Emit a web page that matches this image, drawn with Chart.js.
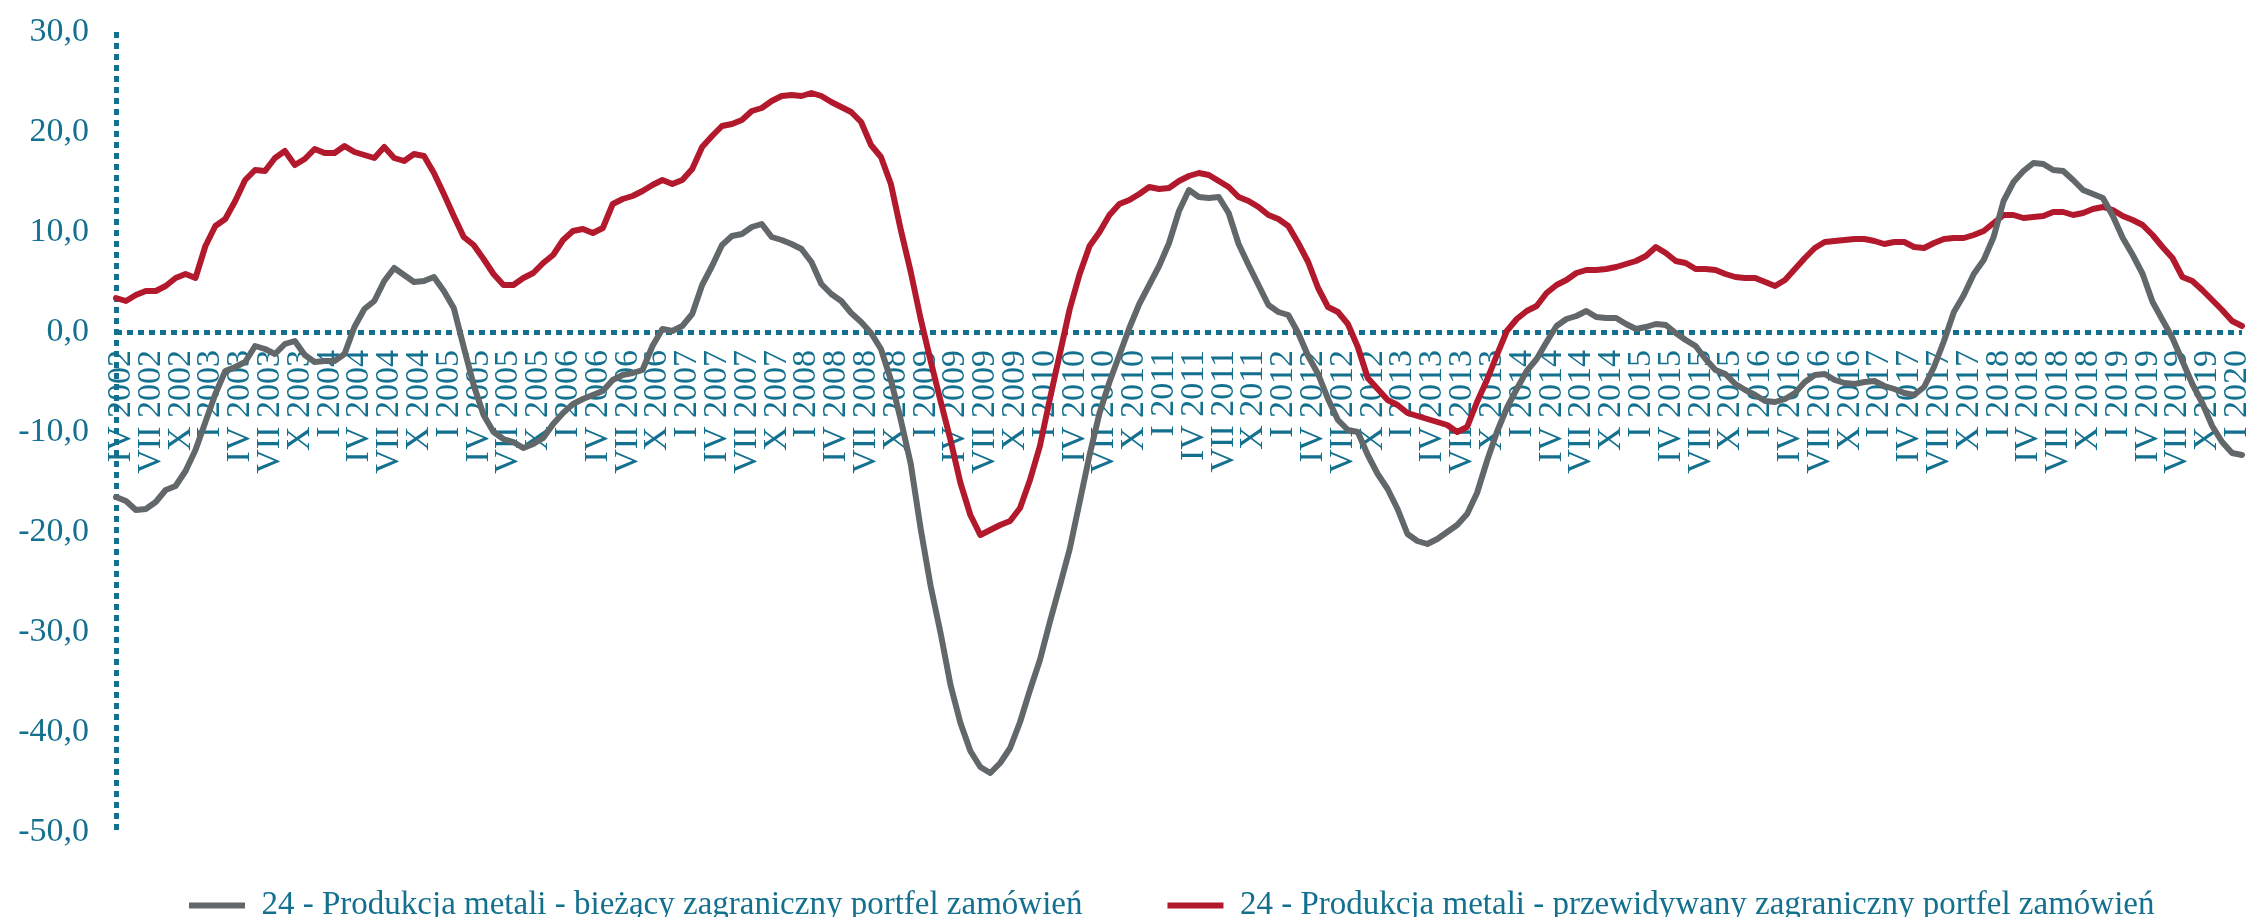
<!DOCTYPE html>
<html lang="pl">
<head>
<meta charset="utf-8">
<title>24 - Produkcja metali - zagraniczny portfel zamówień</title>
<script src="https://cdn.jsdelivr.net/npm/chart.js@4.4.1/dist/chart.umd.min.js"></script>
<style>
  html, body { margin: 0; padding: 0; background: #ffffff; }
  canvas { display: block; }
</style>
</head>
<body>
<canvas id="chart" width="2248" height="917"></canvas>
<script>
// Dane miesięczne od IV 2002 (saldo odpowiedzi)
const START_YEAR = 2002;
const START_MONTH = 4;
const MONTHS_ROMAN = ['I', 'II', 'III', 'IV', 'V', 'VI', 'VII', 'VIII', 'IX', 'X', 'XI', 'XII'];

const biezacy = [
  -16.5, -16.9, -17.8, -17.7, -17.0, -15.8, -15.4, -13.9, -11.8, -9.0, -6.2, -3.9,
  -3.5, -3.0, -1.4, -1.7, -2.2, -1.2, -0.9, -2.3, -3.0, -2.9, -2.9, -2.2,
  0.5, 2.3, 3.1, 5.1, 6.4, 5.7, 5.0, 5.1, 5.5, 4.1, 2.4, -1.5,
  -5.3, -8.3, -10.0, -10.7, -11.0, -11.6, -11.2, -10.6, -9.2, -8.1, -7.2, -6.7,
  -6.3, -5.9, -4.8, -4.3, -4.1, -3.8, -1.4, 0.3, 0.1, 0.6, 1.8, 4.7,
  6.6, 8.7, 9.6, 9.8, 10.5, 10.8, 9.5, 9.2, 8.8, 8.3, 7.0, 4.8,
  3.8, 3.1, 1.9, 1.0, -0.1, -1.7, -4.8, -8.8, -13.2, -19.7, -25.4, -30.1,
  -35.3, -39.1, -41.9, -43.5, -44.1, -43.1, -41.6, -39.0, -35.8, -32.8, -29.0, -25.4,
  -21.7, -17.0, -12.3, -8.1, -5.0, -2.3, 0.4, 2.8, 4.7, 6.6, 8.9, 12.1,
  14.2, 13.5, 13.4, 13.5, 11.9, 8.8, 6.7, 4.7, 2.7, 2.0, 1.7, -0.1,
  -2.4, -4.2, -6.7, -8.8, -9.8, -10.0, -12.3, -14.2, -15.7, -17.7, -20.2, -20.9,
  -21.2, -20.7, -20.0, -19.3, -18.2, -16.1, -12.9, -10.0, -7.6, -5.7, -3.9, -2.7,
  -1.0, 0.6, 1.3, 1.6, 2.1, 1.5, 1.4, 1.4, 0.8, 0.3, 0.5, 0.8,
  0.7, -0.1, -0.8, -1.4, -2.7, -3.8, -4.2, -5.2, -5.8, -6.3, -6.9, -7.0,
  -6.7, -6.1, -5.0, -4.3, -4.2, -4.8, -5.1, -5.2, -5.0, -4.9, -5.4, -5.7,
  -6.1, -6.3, -5.5, -3.5, -0.9, 2.0, 3.7, 5.8, 7.2, 9.5, 13.1, 15.0,
  16.1, 16.9, 16.8, 16.2, 16.1, 15.2, 14.2, 13.8, 13.4, 11.6, 9.4, 7.7,
  5.8, 3.0, 1.2, -0.6, -2.9, -5.2, -7.1, -9.4, -11.0, -12.1, -12.3
];

const przewidywany = [
  3.4, 3.1, 3.7, 4.1, 4.1, 4.6, 5.4, 5.8, 5.4, 8.6, 10.6, 11.3,
  13.1, 15.2, 16.2, 16.1, 17.4, 18.1, 16.7, 17.3, 18.3, 17.9, 17.9, 18.6,
  18.0, 17.7, 17.4, 18.5, 17.4, 17.1, 17.8, 17.6, 15.9, 13.8, 11.6, 9.5,
  8.7, 7.3, 5.8, 4.7, 4.7, 5.4, 5.9, 6.9, 7.7, 9.2, 10.1, 10.3,
  9.9, 10.4, 12.8, 13.3, 13.6, 14.1, 14.7, 15.2, 14.8, 15.2, 16.3, 18.5,
  19.6, 20.6, 20.8, 21.2, 22.1, 22.4, 23.1, 23.6, 23.7, 23.6, 23.9, 23.6,
  23.0, 22.5, 22.0, 21.0, 18.7, 17.5, 14.8, 10.2, 6.0, 1.3, -2.9, -6.9,
  -10.8, -15.1, -18.3, -20.3, -19.8, -19.3, -18.9, -17.6, -14.8, -11.4, -6.7, -2.2,
  2.3, 5.8, 8.6, 10.0, 11.7, 12.8, 13.2, 13.8, 14.5, 14.3, 14.4, 15.1,
  15.6, 15.9, 15.7, 15.1, 14.5, 13.5, 13.1, 12.5, 11.7, 11.3, 10.6, 8.9,
  7.0, 4.4, 2.5, 2.0, 0.8, -1.5, -4.6, -5.7, -6.8, -7.3, -8.1, -8.4,
  -8.7, -9.0, -9.3, -10.0, -9.5, -7.0, -4.8, -2.3, 0.1, 1.3, 2.1, 2.6,
  3.9, 4.7, 5.2, 5.9, 6.2, 6.2, 6.3, 6.5, 6.8, 7.1, 7.6, 8.5,
  7.9, 7.1, 6.9, 6.3, 6.3, 6.2, 5.8, 5.5, 5.4, 5.4, 5.0, 4.6,
  5.2, 6.3, 7.4, 8.4, 9.0, 9.1, 9.2, 9.3, 9.3, 9.1, 8.8, 9.0,
  9.0, 8.5, 8.4, 8.9, 9.3, 9.4, 9.4, 9.7, 10.1, 10.9, 11.7, 11.7,
  11.4, 11.5, 11.6, 12.0, 12.0, 11.7, 11.9, 12.3, 12.5, 12.2, 11.6, 11.2,
  10.7, 9.7, 8.5, 7.4, 5.5, 5.1, 4.2, 3.2, 2.2, 1.1, 0.6
];

const seriesNames = [
  '24 - Produkcja metali - bieżący zagraniczny portfel zamówień',
  '24 - Produkcja metali - przewidywany zagraniczny portfel zamówień'
];

// Etykiety osi X: "IV 2002", "V 2002", ...
const months = biezacy.map((_, i) => {
  const m = (START_MONTH - 1 + i) % 12;
  const y = START_YEAR + Math.floor((START_MONTH - 1 + i) / 12);
  return MONTHS_ROMAN[m] + ' ' + y;
});

const TEAL = '#13708e';
const GRAY = '#626769';
const RED = '#b3192c';
const DOTS = [6, 5];

// Legenda w dolnym pasie: pionowe położenie i lewy brzeg z opcji wtyczki
const legendBand = {
  id: 'legendBand',
  afterLayout(chart, args, opts) {
    const lg = chart.legend;
    const lab = lg.options.labels;
    lg.top = opts.centerY - lab.padding - lab.font.size / 2;
    lg.left = opts.left;
    lg.right = chart.width + 40;
  }
};

new Chart(document.getElementById('chart'), {
  type: 'line',
  data: {
    labels: months,
    datasets: [
      {
        label: seriesNames[0],
        data: biezacy,
        borderColor: GRAY,
        backgroundColor: GRAY,
        borderWidth: 6,
        borderCapStyle: 'round',
        borderJoinStyle: 'round',
        pointRadius: 0,
        tension: 0
      },
      {
        label: seriesNames[1],
        data: przewidywany,
        borderColor: RED,
        backgroundColor: RED,
        borderWidth: 6,
        borderCapStyle: 'round',
        borderJoinStyle: 'round',
        pointRadius: 0,
        tension: 0
      }
    ]
  },
  options: {
    responsive: false,
    animation: false,
    layout: { padding: { top: 32, left: 0, right: 6, bottom: 0 } },
    plugins: {
      tooltip: { enabled: false },
      legendBand: { centerY: 905.5, left: 104 },
      legend: {
        position: 'bottom',
        align: 'start',
        maxHeight: 85,
        labels: {
          usePointStyle: true,
          pointStyle: 'line',
          pointStyleWidth: 56,
          padding: 85,
          color: TEAL,
          font: { family: '"Liberation Serif", serif', size: 33 }
        }
      }
    },
    scales: {
      x: {
        position: { y: 0 },
        afterFit(scale) { scale.paddingLeft = 0; scale.paddingRight = 0; },
        // pionowa kropkowana oś = pierwsza linia siatki X
        grid: {
          drawTicks: false,
          lineWidth: 5,
          color: (ctx) => (ctx.index === 0 ? TEAL : 'rgba(0,0,0,0)')
        },
        border: { display: false, dash: DOTS },
        ticks: {
          autoSkip: false,
          minRotation: 90,
          maxRotation: 90,
          padding: 18,
          labelOffset: 5,
          color: TEAL,
          font: { family: '"Liberation Serif", serif', size: 34 },
          callback(value, index) {
            return index % 3 === 0 ? this.getLabelForValue(value) : null;
          }
        }
      },
      y: {
        min: -50,
        max: 30,
        afterFit(scale) { scale.width = 116; scale.paddingTop = 0; scale.paddingBottom = 0; },
        // pozioma kropkowana linia zera = linia siatki Y dla 0
        grid: {
          drawTicks: false,
          lineWidth: 5,
          color: (ctx) => (ctx.tick && ctx.tick.value === 0 ? TEAL : 'rgba(0,0,0,0)')
        },
        border: { display: false, dash: DOTS },
        ticks: {
          stepSize: 10,
          padding: 27,
          color: TEAL,
          font: { family: '"Liberation Serif", serif', size: 34 },
          callback: (v) => v.toFixed(1).replace('.', ',')
        }
      }
    }
  },
  plugins: [legendBand]
});
</script>
</body>
</html>
